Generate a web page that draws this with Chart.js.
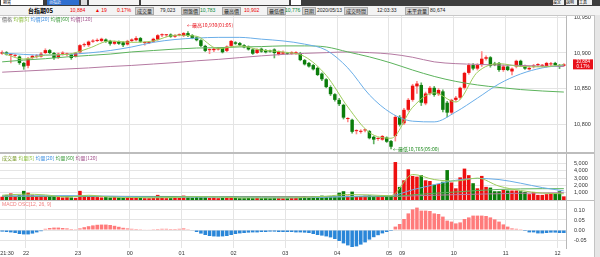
<!DOCTYPE html>
<html>
<head>
<meta charset="utf-8">
<script src="https://cdn.jsdelivr.net/npm/chart.js@4.4.1/dist/chart.umd.min.js"></script>
<style>
body{margin:0;width:600px;height:257px;overflow:hidden;background:#fff;position:relative;
  font-family:'Liberation Sans Narrow','Liberation Sans','Noto Sans CJK TC',sans-serif}
.a{position:absolute}
.t{position:absolute;font-size:5px;line-height:7px;white-space:nowrap}
.lb{position:absolute;top:7px;height:6px;line-height:6px;font-size:5px;background:#d4d4d4;border:1px solid #a8a8a8;box-sizing:content-box;padding:0 1px;color:#222;white-space:nowrap;font-family:'Noto Sans CJK TC',sans-serif}
.cj{font-family:'Noto Sans CJK TC',sans-serif}
canvas{position:absolute;left:0}
</style>
</head>
<body>
<!-- toolbar -->
<div class="a" style="left:0;top:0;width:600px;height:6px;background:#3e3e3e"></div>
<div class="a t cj" style="left:1px;top:0;width:40px;height:5px;background:#fff;line-height:5px;font-size:4px;padding-left:2px">期貨</div>
<div class="a t cj" style="left:47px;top:0;width:30px;height:5px;background:#2f6fd0;color:#fff;line-height:5px;font-size:4px;padding-left:2px">台指近</div>
<div class="a" style="left:81px;top:0;width:6px;height:5px;background:#ddd"></div>
<div class="a" style="left:89px;top:0;width:50px;height:5px;background:#f4f4f4"></div>
<div class="a" style="left:141px;top:0;width:148px;height:5px;background:#f4f4f4"></div>
<div class="a" style="left:291px;top:0;width:10px;height:5px;background:#fff"></div>
<div class="a t cj" style="left:553px;top:0;width:11px;height:5px;background:#f0f0f0;line-height:5px;font-size:4px">設定</div>
<div class="a t cj" style="left:566px;top:0;width:11px;height:5px;background:#f0f0f0;line-height:5px;font-size:4px">說明</div>
<div class="a t cj" style="left:579px;top:0;width:13px;height:5px;background:#f0f0f0;line-height:5px;font-size:4px">工具</div>

<!-- info row -->
<div class="a" style="left:0;top:6px;width:600px;height:9px;background:#f3f3f3"></div>
<div class="t cj" style="left:28px;top:7px;font-weight:bold;font-size:6px">台指期05</div>
<div class="t" style="left:70px;top:7px;color:#e00">10,884</div>
<div class="t" style="left:95px;top:7px;color:#e00">▲ 19</div>
<div class="t" style="left:117px;top:7px;color:#e00">0.17%</div>
<div class="lb" style="left:135px">成交量</div>
<div class="t" style="left:160px;top:7px;color:#222">79,023</div>
<div class="lb" style="left:181px">開盤價</div>
<div class="t" style="left:200px;top:7px;color:#0a8a3a">10,783</div>
<div class="lb" style="left:222px">最高價</div>
<div class="t" style="left:244px;top:7px;color:#e00">10,902</div>
<div class="lb" style="left:267px">最低價</div>
<div class="t" style="left:285px;top:7px;color:#0a8a3a">10,776</div>
<div class="lb" style="left:302px">日期</div>
<div class="t" style="left:317px;top:7px;color:#222">2020/05/13</div>
<div class="lb" style="left:344px">成交時間</div>
<div class="t" style="left:377px;top:7px;color:#222">12:03:33</div>
<div class="lb" style="left:405px">未平倉量</div>
<div class="t" style="left:430px;top:7px;color:#222">80,674</div>

<canvas id="price" width="600" height="137" style="top:15px"></canvas>
<div class="a" style="left:0;top:152px;width:600px;height:2px;background:#bdbdbd"></div>
<canvas id="vol" width="600" height="46" style="top:154px"></canvas>
<div class="a" style="left:0;top:200px;width:600px;height:1px;background:#bdbdbd"></div>
<canvas id="macd" width="600" height="56" style="top:201px"></canvas>

<div class="a" style="left:0;top:15px;width:594px;height:1px;background:#c8c8c8"></div>
<div class="a" style="left:594px;top:15px;width:6px;height:242px;background:#e6e6e6;border-left:1px solid #c4c4c4"></div>

<!-- panel legends -->
<div class="t cj" style="left:2px;top:15px;color:#666">價格 <span style="color:#8cbf3c">均價[5]</span> <span style="color:#3d8fe0">均價[20]</span> <span style="color:#3a9a3a">均價[60]</span> <span style="color:#a04f8a">均價[120]</span></div>
<div class="t cj" style="left:2px;top:154px;color:#7a9a2a">成交量 <span style="color:#8cbf3c">均量[5]</span> <span style="color:#3d8fe0">均量[20]</span> <span style="color:#3a9a3a">均量[60]</span> <span style="color:#a04f8a">均量[120]</span></div>
<div class="t" style="left:2px;top:201px;color:#f08080">MACD OSC[12, 26, 9]</div>

<script>
// sessions: night 21:30-05:00, day 08:50-12:05 (5 min bars)
const sessions = [{ start: '21:30', bars: 91 }, { start: '08:50', bars: 40 }];

const open = [
  10899,10901,10897,10896,10895,10886,10882,10893,10895,10895,
  10900,10904,10900,10894,10899,10898,10898,10895,10901,10911,
  10911,10916,10917,10917,10919,10917,10913,10916,10915,10912,
  10917,10918,10921,10914,10914,10916,10919,10925,10925,10926,
  10923,10925,10924,10928,10925,10922,10918,10910,10904,10904,
  10905,10907,10903,10910,10915,10914,10911,10909,10905,10900,
  10906,10904,10903,10905,10898,10899,10900,10899,10899,10900,
  10890,10886,10883,10879,10871,10863,10852,10842,10834,10827,
  10807,10806,10790,10789,10791,10790,10782,10779,10778,10781,
  10776,10783,10810,10801,10820,10834,10853,10855,10829,10843,
  10851,10842,10846,10830,10816,10834,10837,10851,10872,10883,
  10878,10883,10892,10894,10885,10886,10876,10881,10874,10881,
  10889,10882,10877,10881,10883,10882,10881,10884,10886,10883,
  10882];
const close = [
  10901,10898,10897,10896,10886,10881,10892,10896,10896,10899,
  10904,10900,10893,10899,10900,10898,10893,10900,10911,10911,
  10916,10917,10918,10920,10916,10913,10916,10913,10911,10917,
  10919,10921,10916,10914,10915,10920,10925,10925,10925,10923,
  10925,10925,10928,10924,10921,10918,10910,10903,10904,10906,
  10907,10901,10909,10917,10913,10911,10908,10905,10899,10905,
  10902,10901,10902,10900,10902,10901,10899,10901,10901,10890,
  10884,10881,10877,10869,10863,10852,10842,10834,10828,10809,
  10807,10789,10790,10790,10791,10780,10778,10780,10783,10775,
  10768,10810,10799,10820,10834,10854,10857,10830,10843,10851,
  10841,10848,10820,10816,10834,10837,10851,10872,10883,10878,
  10883,10892,10894,10882,10883,10876,10881,10876,10878,10889,
  10882,10878,10879,10881,10883,10882,10886,10884,10883,10881,
  10884];
const high = [
  10903,10902,10899,10898,10896,10887,10894,10897,10898,10901,
  10906,10905,10901,10900,10902,10900,10899,10901,10912,10914,
  10917,10919,10920,10921,10920,10918,10917,10917,10916,10918,
  10920,10923,10922,10916,10916,10921,10926,10927,10926,10927,
  10926,10927,10929,10930,10926,10923,10919,10911,10906,10907,
  10908,10908,10910,10918,10916,10915,10912,10910,10906,10906,
  10907,10905,10904,10906,10903,10903,10901,10902,10902,10901,
  10891,10887,10884,10880,10872,10864,10854,10843,10836,10828,
  10809,10807,10792,10792,10793,10791,10783,10781,10784,10782,
  10777,10812,10812,10822,10836,10856,10860,10858,10845,10853,
  10853,10850,10848,10832,10835,10839,10852,10873,10885,10885,
  10885,10902,10896,10895,10887,10887,10883,10882,10879,10890,
  10890,10883,10881,10884,10885,10884,10887,10887,10887,10884,
  10885];
const low = [
  10898,10897,10886,10894,10884,10877,10879,10891,10893,10894,
  10899,10899,10891,10892,10897,10896,10891,10894,10899,10909,
  10909,10915,10916,10916,10915,10911,10912,10912,10909,10911,
  10916,10917,10915,10911,10913,10915,10918,10923,10923,10922,
  10922,10924,10923,10923,10920,10917,10909,10902,10899,10902,
  10904,10900,10902,10909,10912,10910,10907,10904,10898,10899,
  10901,10900,10901,10893,10897,10898,10898,10898,10898,10889,
  10883,10880,10876,10868,10861,10851,10840,10832,10826,10807,
  10803,10787,10786,10787,10789,10779,10772,10777,10777,10774,
  10765,10776,10797,10799,10818,10832,10843,10826,10827,10841,
  10839,10840,10817,10810,10814,10832,10835,10849,10870,10876,
  10876,10881,10890,10880,10882,10874,10874,10875,10869,10879,
  10881,10877,10876,10879,10881,10880,10880,10882,10882,10878,
  10881];

// moving averages read every 5 bars
const ma5   = [10900,10891.5,10897,10898,10906.5,10917,10915,10917,10925,10923.5,10906,10910,10904,10901.5,10895,10868.5,10824,10788,10780,10823.5,10844,10831,10873,10885,10881,10880.5,10883.5];
const ma20  = [10900,10898,10897,10898,10900,10903.5,10908.5,10915,10919,10921,10922,10922,10919.5,10917,10912.5,10904,10879,10841,10815.5,10804,10803,10817,10836.5,10856.5,10870.5,10879,10883];
const ma60  = [10887.5,10890,10892,10894.5,10896.5,10898.5,10901.5,10903.5,10905.5,10907,10907.5,10908.5,10909,10910,10910,10908.5,10901.5,10894.5,10886,10876,10867,10860,10855,10851.5,10848.5,10846.5,10845];
const ma120 = [10873,10874.5,10876,10877.5,10879,10881,10882.5,10884.5,10886.5,10889,10891,10893.5,10896,10898,10899.5,10900.5,10901.5,10900.5,10898.5,10894,10887.5,10885,10884,10883,10882.5,10881.5,10881];

const volume = [
  450,700,900,450,700,1250,1000,700,500,600,
  500,550,500,400,350,400,350,300,1250,600,
  500,450,400,350,400,350,450,350,300,350,
  300,300,300,250,250,300,700,300,250,250,
  300,300,600,500,350,450,500,550,300,350,
  250,300,350,300,300,250,250,300,250,300,
  250,300,250,300,300,250,250,300,300,350,
  500,400,550,500,600,450,550,550,1000,1200,
  600,1150,500,550,600,650,500,550,600,650,
  500,5200,1800,2700,4200,3300,3200,3400,2700,2600,
  2100,2200,2500,4100,2400,1600,3100,4300,3400,2300,
  1600,3300,1800,1700,1200,1200,1400,1300,1300,1300,
  1200,1100,800,1100,700,700,800,900,900,1200,
  500];
const vma5   = [650,800,700,400,650,400,350,300,350,450,400,300,280,280,350,520,750,700,580,3500,2800,2600,3000,1900,1300,950,850];
const vma20  = [550,560,580,600,560,520,450,380,360,380,380,360,340,300,320,380,480,560,600,1400,2100,2700,2950,2800,2300,1700,1250];
const vma60  = [500,500,500,495,490,485,480,470,460,450,440,430,420,410,400,420,440,460,480,700,920,1100,1300,1450,1520,1550,1550];
const vma120 = [520,520,515,510,505,500,495,490,485,480,475,470,465,460,460,460,465,470,470,560,650,730,800,860,920,960,1000];

const macd = [
  -0.008,-0.01,-0.012,-0.015,-0.02,-0.022,-0.022,-0.018,-0.012,-0.006,
  0.006,0.01,0.012,0.012,0.01,0.008,0.005,0.004,0.008,0.014,
  0.019,0.023,0.026,0.027,0.027,0.025,0.021,0.016,0.011,0.008,
  0.006,0.005,0.004,0.003,0.003,0.004,0.005,0.006,0.006,0.005,
  0.005,0.006,0.008,0.004,-0.002,-0.01,-0.018,-0.025,-0.03,-0.032,
  -0.033,-0.032,-0.03,-0.025,-0.02,-0.017,-0.015,-0.013,-0.012,-0.012,
  -0.01,-0.01,-0.008,-0.008,-0.01,-0.01,-0.01,-0.01,-0.012,-0.012,
  -0.013,-0.015,-0.02,-0.025,-0.028,-0.032,-0.037,-0.045,-0.055,-0.067,
  -0.077,-0.085,-0.082,-0.073,-0.062,-0.048,-0.036,-0.026,-0.017,-0.01,
  -0.005,0.017,0.03,0.055,0.083,0.103,0.112,0.097,0.097,0.095,
  0.083,0.08,0.067,0.047,0.042,0.033,0.038,0.055,0.063,0.072,
  0.072,0.072,0.07,0.063,0.053,0.042,0.028,0.017,0.008,0.006,
  0.004,-0.005,-0.012,-0.012,-0.017,-0.017,-0.015,-0.013,-0.013,-0.015,
  -0.015];

const priceTicks = [10800, 10850, 10900, 10950];
const volTicks = [1000, 2000, 3000, 4000, 5000];
const macdTicks = [-0.05, 0, 0.05, 0.10];
const changePct = '0.17%';

// time labels
const times = [];
sessions.forEach(s => {
  let [h, m] = s.start.split(':').map(Number);
  for (let k = 0; k < s.bars; k++) {
    times.push(String(h).padStart(2, '0') + ':' + String(m).padStart(2, '0'));
    m += 5;
    if (m >= 60) { m -= 60; h = (h + 1) % 24; }
  }
});
const isHour = i => !!times[i] && times[i].endsWith(':00');
const up = close.map((c, i) => c >= open[i]);
const sparse = (vals, step) => times.map((_, i) => i % step === 0 ? vals[i / step] : null);
const comma = v => Math.round(v).toLocaleString('en-US');

const AX = { family: "'Liberation Sans Narrow','Liberation Sans',sans-serif", size: 5.5 };
const RED = '#ee1010', GREEN = '#0b7d0b';
const C5 = '#9ccc5a', C20 = '#6aaee8', C60 = '#5cb35c', C120 = '#b57aa2';

Chart.defaults.font.family = AX.family;

function xScale(labels) {
  return {
    type: 'category', offset: true,
    grid: { offset: true, drawTicks: false,
      color: c => c.index === 0 ? '#c8c8c8' : (isHour(c.index) ? '#e4e4e4' : 'rgba(0,0,0,0)') },
    border: { display: false },
    ticks: labels ? {
      autoSkip: false, maxRotation: 0, minRotation: 0, align: 'inner', padding: 2, labelOffset: -2,
      font: AX, color: '#333',
      callback: (v, i) => i === 0 ? times[0] : (isHour(i) ? times[i].slice(0, 2) : '')
    } : { display: false },
    afterFit: s => { s.paddingLeft = 0; s.paddingRight = 0; s.height = labels ? 9 : 0; }
  };
}

function yScale(min, max, tickVals, fmt) {
  return {
    position: 'right', min, max,
    grid: { color: '#e4e4e4', drawTicks: false },
    border: { color: '#b8b8b8' },
    ticks: { font: AX, color: '#333', padding: 8, crossAlign: 'near', autoSkip: false, callback: fmt },
    afterBuildTicks: s => { s.ticks = tickVals.map(v => ({ value: v })); },
    afterFit: s => { s.width = 34; s.paddingTop = 0; s.paddingBottom = 0; }
  };
}

const lineStyle = { type: 'line', pointRadius: 0, borderWidth: 1, spanGaps: true,
  cubicInterpolationMode: 'monotone', fill: false, order: 0 };

const baseOpts = {
  responsive: false, animation: false, events: [],
  layout: { padding: 0 },
  plugins: { legend: { display: false }, tooltip: { enabled: false } }
};

// price chart notes
const priceMarks = {
  id: 'priceMarks',
  afterDraw(chart) {
    const { ctx, chartArea: a, scales: { x, y } } = chart;
    const last = close.length - 1;
    const py = y.getPixelForValue(close[last]);
    ctx.save();
    ctx.fillStyle = '#e8101a';
    ctx.fillRect(a.right + 7, py - 5, 20, 10);
    ctx.fillStyle = '#fff';
    ctx.font = "4.5px 'Liberation Sans Narrow','Liberation Sans',sans-serif";
    ctx.textAlign = 'center';
    ctx.textBaseline = 'middle';
    ctx.fillText(comma(close[last]), a.right + 17, py - 2.3);
    ctx.fillText(changePct, a.right + 17, py + 2.6);

    const hi = high.indexOf(Math.max(...high));
    const lo = low.indexOf(Math.min(...low));
    ctx.font = "5px 'Liberation Sans Narrow','Noto Sans CJK TC',sans-serif";
    ctx.textAlign = 'left';
    ctx.fillStyle = '#e8101a';
    ctx.fillText('←最高' + comma(high[hi]) + '(' + times[hi] + ')', x.getPixelForValue(hi) - 1, y.getPixelForValue(high[hi]) - 7);
    ctx.fillStyle = '#1f8a1f';
    ctx.fillText('←最低' + comma(low[lo]) + '(' + times[lo] + ')', x.getPixelForValue(lo) + 2, y.getPixelForValue(low[lo]));
    ctx.restore();
  }
};

new Chart(document.getElementById('price'), {
  type: 'bar',
  data: {
    labels: times,
    datasets: [
      { ...lineStyle, data: sparse(ma5, 5), borderColor: C5 },
      { ...lineStyle, data: sparse(ma20, 5), borderColor: C20 },
      { ...lineStyle, data: sparse(ma60, 5), borderColor: C60 },
      { ...lineStyle, data: sparse(ma120, 5), borderColor: C120 },
      { data: open.map((o, i) => [o, close[i]]), grouped: false, order: 1,
        backgroundColor: up.map(u => u ? RED : GREEN), barPercentage: 0.8, categoryPercentage: 1,
        minBarLength: 1, borderWidth: 0 },
      { data: low.map((l, i) => [l, high[i]]), grouped: false, order: 2,
        backgroundColor: up.map(u => u ? '#ff8c8c' : '#62b062'), barThickness: 1,
        borderWidth: 0 }
    ]
  },
  options: { ...baseOpts,
    scales: { x: xScale(false), y: yScale(10760.6, 10953.5, priceTicks, v => comma(v)) } },
  plugins: [priceMarks]
});

new Chart(document.getElementById('vol'), {
  type: 'bar',
  data: {
    labels: times,
    datasets: [
      { ...lineStyle, data: sparse(vma5, 5), borderColor: C5 },
      { ...lineStyle, data: sparse(vma20, 5), borderColor: C20 },
      { ...lineStyle, data: sparse(vma60, 5), borderColor: C60 },
      { ...lineStyle, data: sparse(vma120, 5), borderColor: C120 },
      { data: volume, order: 1, backgroundColor: up.map(u => u ? RED : GREEN),
        barPercentage: 0.82, categoryPercentage: 1, borderWidth: 0 }
    ]
  },
  options: { ...baseOpts,
    scales: { x: xScale(false), y: yScale(0, 6300, volTicks, v => comma(v)) } }
});

new Chart(document.getElementById('macd'), {
  type: 'bar',
  data: {
    labels: times,
    datasets: [
      { data: macd, backgroundColor: macd.map(v => v >= 0 ? '#ff7b7b' : '#2a86d8'),
        barPercentage: 0.82, categoryPercentage: 1, borderWidth: 0 }
    ]
  },
  options: { ...baseOpts,
    scales: { x: xScale(true), y: yScale(-0.09, 0.145, macdTicks, v => v.toFixed(2)) } }
});
</script>
</body>
</html>
